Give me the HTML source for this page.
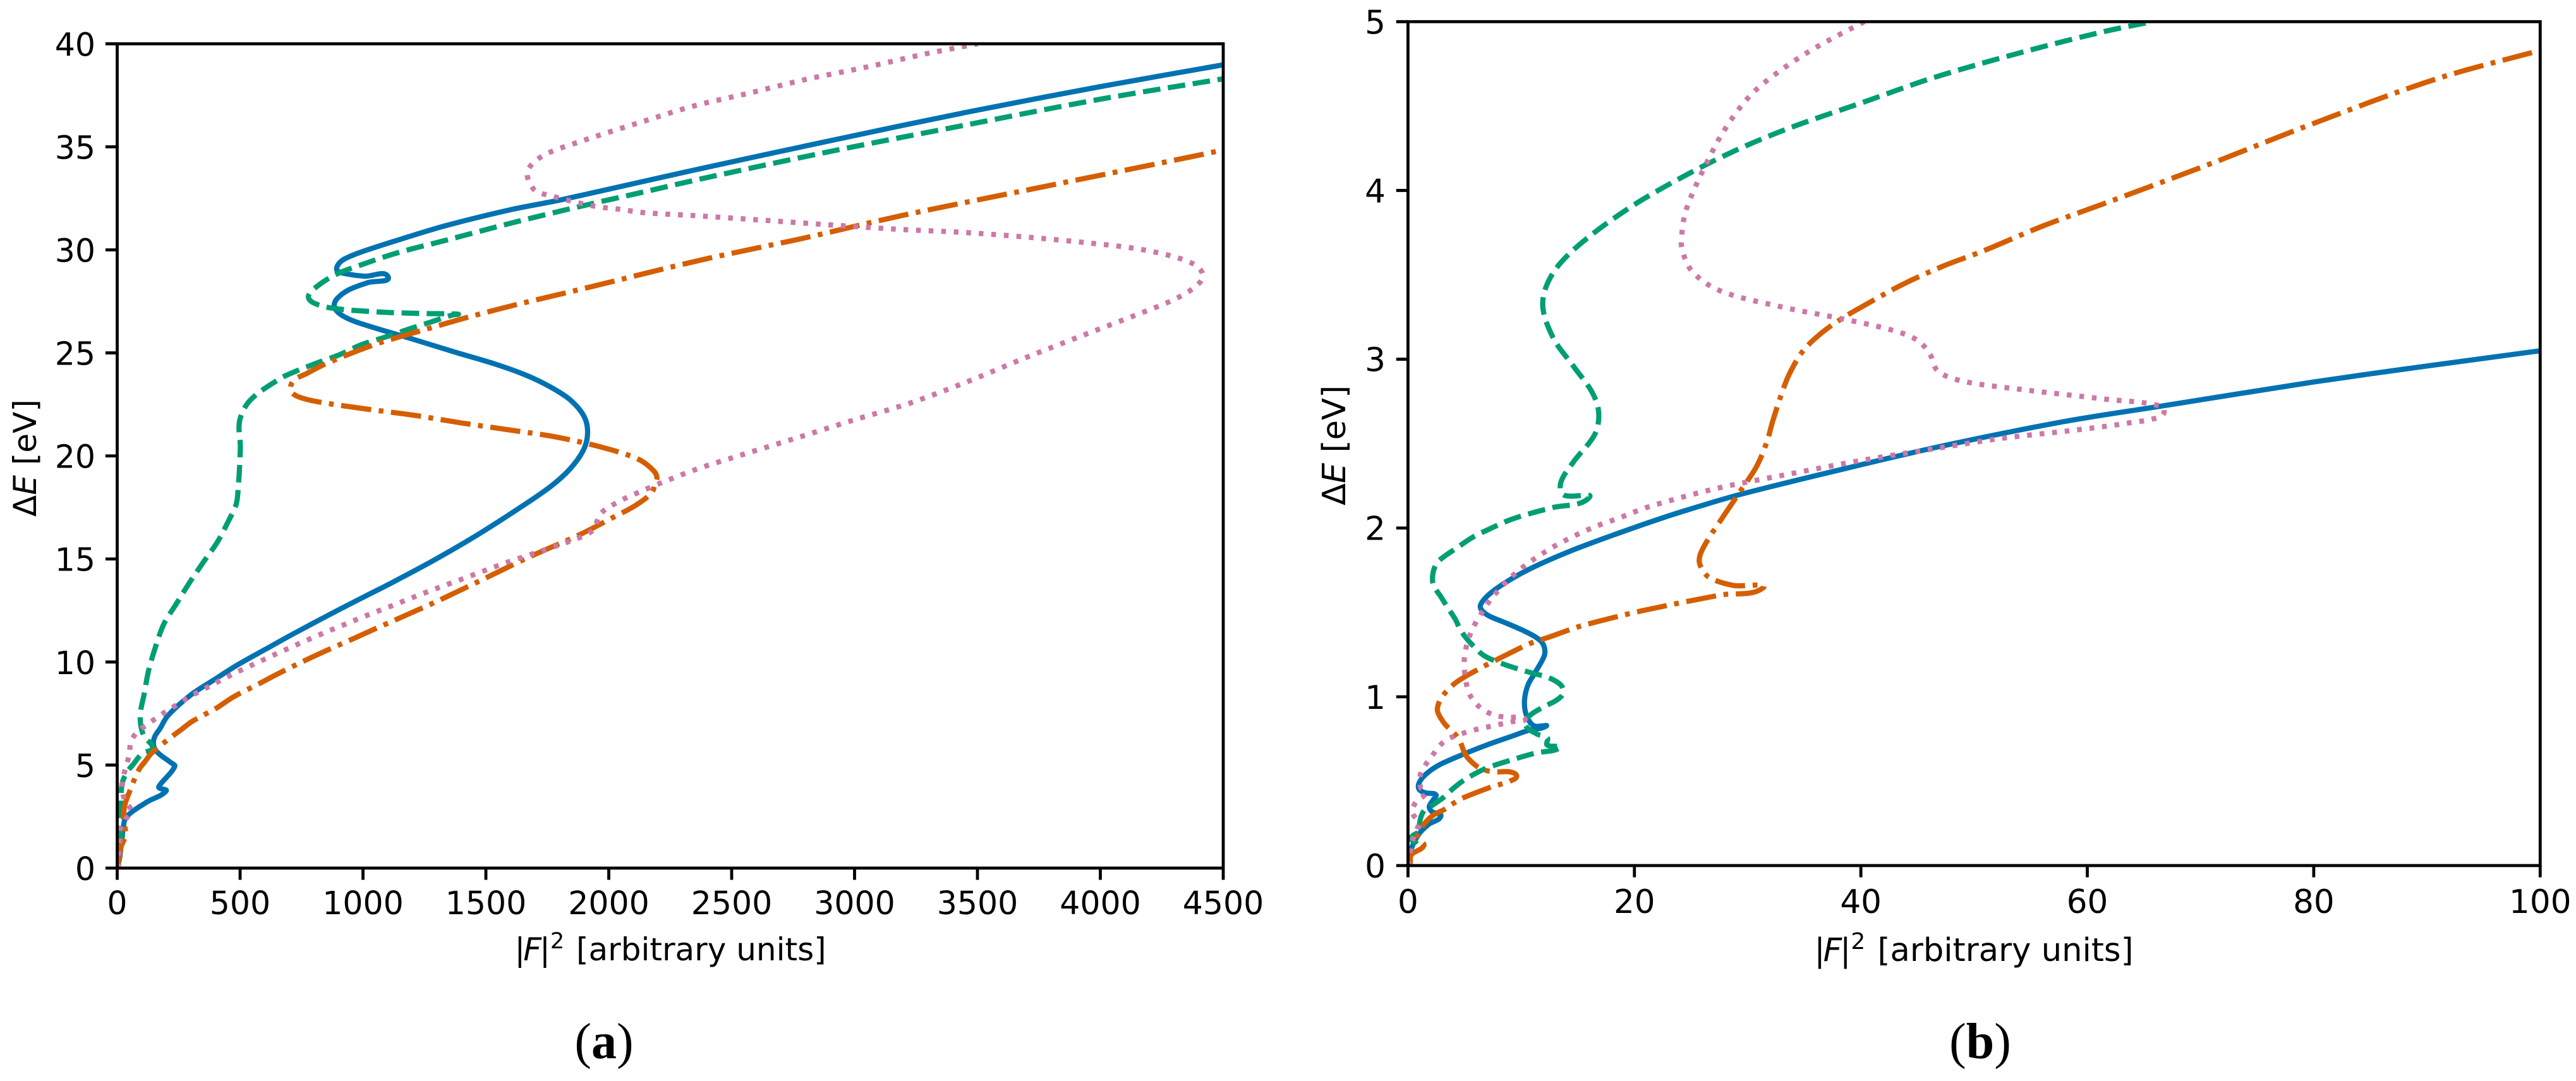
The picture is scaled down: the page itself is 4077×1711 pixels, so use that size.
<!DOCTYPE html>
<html lang="en">
<head>
<meta charset="utf-8">
<title>Two panels of |F|² against ΔE</title>
<style>
html,body{margin:0;padding:0;background:#fff;}
svg{display:block;}
text{font-family:"DejaVu Sans","Liberation Sans",sans-serif;fill:#000;}
.cap{font-family:"Liberation Serif",serif;}
</style>
</head>
<body>
<svg id="fig" xmlns="http://www.w3.org/2000/svg" width="4077" height="1711" viewBox="0 0 4077 1711">
<rect width="4077" height="1711" fill="#fff"/>
<defs>
<clipPath id="clipA"><rect x="185.5" y="69.3" width="1750.5" height="1304.7"/></clipPath>
<clipPath id="clipB"><rect x="2228.4" y="34.3" width="1791.9" height="1335.7"/></clipPath>
</defs>
<g id="panelA"></g>
<g id="panelB"></g>
<text x="1061" y="1520" font-size="50" text-anchor="middle">|<tspan dx="-3" font-style="italic">F</tspan><tspan dx="-3">|</tspan><tspan dy="-19" font-size="35">2</tspan><tspan dy="19" dx="3"> [arbitrary units]</tspan></text>
<text x="3124" y="1521" font-size="51.2" text-anchor="middle">|<tspan dx="-3" font-style="italic">F</tspan><tspan dx="-3">|</tspan><tspan dy="-19" font-size="36">2</tspan><tspan dy="19" dx="3"> [arbitrary units]</tspan></text>
<text transform="translate(57,725) rotate(-90)" font-size="50" text-anchor="middle">Δ<tspan font-style="italic">E</tspan> [eV]</text>
<text transform="translate(2129,705) rotate(-90)" font-size="51.2" text-anchor="middle">Δ<tspan font-style="italic">E</tspan> [eV]</text>
<text class="cap" x="956" y="1675" font-size="80" text-anchor="middle">(<tspan font-weight="bold">a</tspan>)</text>
<text class="cap" x="3134" y="1675" font-size="80" text-anchor="middle">(<tspan font-weight="bold">b</tspan>)</text>
</svg>
<script>
// Tick labels
const aXTicks = [0,500,1000,1500,2000,2500,3000,3500,4000,4500];
const aYTicks = [0,5,10,15,20,25,30,35,40];
const bXTicks = [0,20,40,60,80,100];
const bYTicks = [0,1,2,3,4,5];

// Panel (a) series
const aBlueX = [0,10,15,20,25,37,120,199,170,174,234,217,165,148,152,174,207,300,392,484,599,714,864,1002,1118,1290,1463,1636,1768,1846,1899,1914,1899,1846,1768,1663,1532,1374,1204,1046,955,902,883,896,942,1020,1102,1007,941,896,896,922,994,1138,1335,1597,1794,1991,2351,2902,3453,4004,4500];
const aBlueE = [0,0.5,1,1.5,2,2.48,3.2,3.74,3.9,4.04,4.93,5.13,5.6,5.95,6.36,6.77,7.41,8.41,9.12,9.82,10.59,11.35,12.3,13.15,13.85,14.95,16.15,17.47,18.56,19.42,20.34,21.16,21.93,22.69,23.31,23.92,24.48,25.04,25.66,26.22,26.58,26.93,27.29,27.65,28.06,28.41,28.7,28.72,28.82,28.98,29.23,29.54,29.9,30.46,31.17,31.94,32.4,32.92,33.88,35.3,36.67,37.93,38.98];

const aGreenX = [0,5,12,15,15,20,41,63,103,144,109,95,95,109,127,155,190,242,294,351,409,455,484,492,501,498,541,655,705,810,902,994,1099,1190,1282,1361,1387,1256,1073,876,797,778,810,889,994,1138,1335,1597,1859,2161,2351,2902,3453,4004,4500];
const aGreenE = [0,0.5,1,2,3,4.1,4.67,5,5.58,5.82,6.4,7,7.6,8.4,9.55,10.7,11.85,12.85,13.85,14.85,15.85,16.9,17.65,18.38,20.4,21.7,22.7,23.7,24,24.5,24.9,25.4,25.8,26.17,26.52,26.83,26.88,26.91,26.98,27.17,27.44,27.75,28.2,28.8,29.28,29.85,30.46,31.28,32.04,32.86,33.38,34.78,36.06,37.32,38.3];

const aOrangeX = [0,8,15,34,26,30,45,88,114,140,230,265,305,403,472,576,657,760,841,945,1014,1129,1302,1486,1670,1885,2015,2109,2174,2187,2196,2181,2122,1991,1794,1597,1401,1204,1007,811,732,705,719,771,850,1046,1243,1427,1623,1820,2017,2213,2410,2607,2805,3191,3783,4375,4500];
const aOrangeE = [0,0.5,1,1.62,2.37,3,3.55,4.77,5.18,5.58,6.45,6.76,7.12,7.76,8.3,8.94,9.45,10.05,10.5,11.05,11.42,12.03,12.95,14,15.06,16.2,17,17.6,18.2,18.6,18.96,19.3,19.83,20.36,20.9,21.26,21.6,21.98,22.29,22.64,22.9,23.2,23.67,24,24.48,25.4,26.1,26.73,27.34,27.9,28.47,29.05,29.6,30.1,30.6,31.66,33.1,34.53,34.85];

const aPinkX = [0,6,6,10,11,34,58,32,21,25,38,50,56,86,127,167,210,296,384,475,564,657,749,841,933,1028,1120,1213,1308,1402,1498,1592,1688,1850,1934,1967,2043,2135,2227,2365,2516,2750,2991,3232,3467,3701,3935,4169,4307,4389,4417,4389,4293,4141,3949,3728,3453,3177,2902,2626,2351,2148,2050,1951,1853,1755,1702,1672,1672,1737,1885,2147,2351,2558,2805,3053,3301,3500];
const aPinkE = [0,0.17,0.7,1.25,1.85,2.37,2.76,3.24,3.83,4.43,5,5.58,6.16,6.65,7,7.35,7.68,8.32,8.88,9.44,9.94,10.45,10.94,11.41,11.86,12.32,12.74,13.18,13.61,14.02,14.45,14.86,15.24,15.9,16.38,17.2,17.8,18.3,18.76,19.39,19.96,20.82,21.72,22.59,23.64,24.79,25.88,26.95,27.63,28.24,28.73,29.24,29.69,30.07,30.34,30.59,30.84,31,31.21,31.44,31.66,31.8,31.96,32.1,32.35,32.65,32.86,33.42,33.92,34.6,35.26,36.26,37,37.57,38.28,38.88,39.54,40];

// Panel (b) series
const bBlueX = [0,0.3,0.96,1.8,2.9,2.1,1.88,2.24,2.46,1.6,1,0.96,1.5,2.67,4.8,6.94,9.08,10.6,12.2,11.2,10.7,10.36,10.3,10.6,11.2,11.96,12.1,11.86,11.2,9.94,8.44,7.16,6.5,6.4,6.94,8,9.7,11.65,14.4,18,22.3,25.8,29.4,38.3,47.2,57.9,66.8,80,90,100];
const bBlueE = [0,0.1,0.186,0.243,0.293,0.32,0.35,0.39,0.42,0.43,0.45,0.486,0.536,0.593,0.657,0.714,0.764,0.8,0.826,0.826,0.857,0.914,0.986,1.07,1.14,1.23,1.27,1.32,1.357,1.4,1.443,1.479,1.514,1.543,1.593,1.65,1.72,1.786,1.865,1.955,2.056,2.13,2.2,2.347,2.486,2.63,2.725,2.865,2.96,3.05];

const bGreenX = [0,0.28,0.84,0.28,1.2,1.02,1.4,2,3.2,3.7,4.93,6.8,9,11.3,13.46,12.3,12.3,11.4,10.4,10.6,11.86,13.1,13.7,13.5,12.3,11.2,9.3,7.9,6.73,6,5.2,4.6,4.2,3.5,2.9,2.24,2.2,2.56,3.3,4.4,5.66,7.16,9.08,11,12.7,16,13.75,13.5,14.6,16.5,16.85,16.3,14.6,12.8,11.9,12.8,15.16,19.4,23.7,28.7,33.7,40.1,46.5,54.3,61.4,65.7];
const bGreenE = [0,0.082,0.119,0.163,0.213,0.25,0.325,0.35,0.407,0.44,0.505,0.573,0.623,0.667,0.7,0.714,0.757,0.779,0.829,0.879,0.936,0.979,1.02,1.07,1.117,1.136,1.174,1.207,1.243,1.286,1.343,1.4,1.457,1.529,1.593,1.664,1.729,1.793,1.836,1.886,1.943,1.993,2.05,2.09,2.12,2.18,2.196,2.27,2.39,2.555,2.68,2.8,2.96,3.13,3.33,3.51,3.68,3.89,4.06,4.23,4.37,4.52,4.67,4.82,4.94,5];

const bOrangeX = [0,0.19,0.28,1.4,0.84,1.2,2.14,3.17,3.9,4.84,7.17,8.1,9,9.6,9,7.6,6.7,6,5.1,4.56,4,3.3,2.7,2.6,3,4.27,6.4,7.26,10.47,11.3,12.3,14.7,15.5,20.5,27.6,31.35,28.7,26.55,25.8,25.8,26.55,27.6,29.4,30.8,31.7,32.2,33,33.7,34.9,36.5,38.3,40.07,43.6,47.2,50.75,56.1,61.4,70.96,79.7,90.8,100];
const bOrangeE = [0,0.014,0.063,0.119,0.163,0.225,0.294,0.331,0.364,0.4,0.461,0.48,0.5,0.53,0.555,0.555,0.567,0.592,0.654,0.741,0.79,0.835,0.897,0.934,1,1.086,1.17,1.2,1.307,1.329,1.35,1.407,1.424,1.507,1.603,1.645,1.66,1.71,1.78,1.84,1.937,2.044,2.223,2.366,2.51,2.63,2.796,2.915,3.05,3.154,3.24,3.31,3.44,3.55,3.64,3.79,3.92,4.16,4.39,4.66,4.83];

const bPinkX = [0,0.19,0.28,0.6,0.93,0.37,0.74,1.58,1.12,1.08,1.58,2.23,2.94,3.85,4.9,6,7.08,8.2,9.27,10.3,8.8,7.7,6.7,5.88,5.34,5.09,4.96,5.02,5.28,5.66,6.2,6.73,7.4,8.16,8.9,9.76,10.6,11.54,12.46,13.46,14.47,15.45,16.5,17.5,18.6,19.6,21.7,27.3,33.7,40,46.5,52.3,58.9,63.4,66.6,66.6,61.4,54.3,49,46.8,46.1,45.05,42.9,38.3,33,27.6,25.1,24.2,24.2,24.5,25.3,26.5,27.6,29.2,30.8,33.3,36.1,40.3];
const bPinkE = [0,0.07,0.126,0.185,0.256,0.315,0.38,0.43,0.461,0.536,0.6,0.66,0.72,0.76,0.785,0.806,0.822,0.838,0.853,0.87,0.878,0.89,0.92,0.969,1.03,1.107,1.18,1.254,1.329,1.397,1.464,1.52,1.586,1.643,1.697,1.746,1.791,1.833,1.874,1.911,1.946,1.977,2.007,2.033,2.057,2.085,2.135,2.235,2.32,2.4,2.47,2.53,2.58,2.62,2.665,2.72,2.765,2.82,2.87,2.93,3.03,3.11,3.17,3.24,3.31,3.405,3.52,3.655,3.75,3.87,4.01,4.18,4.32,4.48,4.6,4.73,4.85,5];

const SVGNS = 'http://www.w3.org/2000/svg';
const LW = 8.2;
const U = 7.5;

function axisFn(v0, v1, p0, p1){
  return function(v){ return p0 + (v - v0) / (v1 - v0) * (p1 - p0); };
}

function smoothPath(pts){
  let d = 'M' + pts[0][0].toFixed(1) + ' ' + pts[0][1].toFixed(1);
  const tang = pts.map(function(p,i){
    const a = pts[Math.max(i-1,0)], b = pts[Math.min(i+1,pts.length-1)];
    const dx = b[0]-a[0], dy = b[1]-a[1], n = Math.hypot(dx,dy) || 1;
    return [dx/n, dy/n];
  });
  for (let i = 0; i < pts.length-1; i++){
    const p = pts[i], q = pts[i+1];
    const L = Math.hypot(q[0]-p[0], q[1]-p[1]) * 0.33;
    d += 'C' + (p[0]+tang[i][0]*L).toFixed(1) + ' ' + (p[1]+tang[i][1]*L).toFixed(1) + ' ' +
         (q[0]-tang[i+1][0]*L).toFixed(1) + ' ' + (q[1]-tang[i+1][1]*L).toFixed(1) + ' ' +
         q[0].toFixed(1) + ' ' + q[1].toFixed(1);
  }
  return d;
}

function drawPanel(root, tag, clipId, box, xMax, yMax, xTicks, yTicks, series){
  const xS = axisFn(0, xMax, box.l, box.r);
  const yS = axisFn(0, yMax, box.b, box.t);

  const lines = document.createElementNS(SVGNS, 'g');
  lines.setAttribute('clip-path', 'url(#' + clipId + ')');
  
  
  root.appendChild(lines);

  series.forEach(function(s){
    const pts = s.x.map(function(v,i){ return [xS(v), yS(s.e[i])]; });
    const p = document.createElementNS(SVGNS, 'path');
    p.setAttribute('d', smoothPath(pts));
    p.setAttribute('fill', 'none');
    p.setAttribute('stroke', s.color);
    p.setAttribute('stroke-width', LW);
    p.setAttribute('stroke-linejoin', 'round');
    if (s.dash) p.setAttribute('stroke-dasharray', s.dash);
    
    
    lines.appendChild(p);
  });

  const frame = document.createElementNS(SVGNS, 'rect');
  frame.setAttribute('x', box.l);
  frame.setAttribute('y', box.t);
  frame.setAttribute('width', box.r - box.l);
  frame.setAttribute('height', box.b - box.t);
  frame.setAttribute('fill', 'none');
  frame.setAttribute('stroke', '#000');
  frame.setAttribute('stroke-width', 4.8);
  
  
  root.appendChild(frame);

  xTicks.forEach(function(v){
    const t = document.createElementNS(SVGNS, 'line');
    t.setAttribute('x1', xS(v));
    t.setAttribute('x2', xS(v));
    t.setAttribute('y1', box.b);
    t.setAttribute('y2', box.b + 18.6);
    t.setAttribute('stroke', '#000');
    t.setAttribute('stroke-width', 4.8);
    
    
    root.appendChild(t);
    const l = document.createElementNS(SVGNS, 'text');
    l.setAttribute('x', xS(v));
    l.setAttribute('y', box.b + box.xLabelGap);
    l.setAttribute('font-size', box.fs);
    l.setAttribute('text-anchor', 'middle');
    
    
    l.textContent = String(v);
    root.appendChild(l);
  });

  yTicks.forEach(function(v){
    const t = document.createElementNS(SVGNS, 'line');
    t.setAttribute('x1', box.l - 18.6);
    t.setAttribute('x2', box.l);
    t.setAttribute('y1', yS(v));
    t.setAttribute('y2', yS(v));
    t.setAttribute('stroke', '#000');
    t.setAttribute('stroke-width', 4.8);
    
    
    root.appendChild(t);
    const l = document.createElementNS(SVGNS, 'text');
    l.setAttribute('x', box.l - box.yLabelGap);
    l.setAttribute('y', yS(v) + 19);
    l.setAttribute('font-size', box.fs);
    l.setAttribute('text-anchor', 'end');
    
    
    l.textContent = String(v);
    root.appendChild(l);
  });
}

const COL = {blue:'#0072B2', green:'#009E73', orange:'#D55E00', pink:'#CC79A7'};
const DASH = {green:(3.7*U)+' '+(1.6*U), orange:(6.4*U)+' '+(1.6*U)+' '+U+' '+(1.6*U), pink:U+' '+(1.65*U)};

drawPanel(document.getElementById('panelA'), 'a', 'clipA',
  {l:185.5, r:1936, t:69.3, b:1374, fs:50.5, xLabelGap:73, yLabelGap:34.5}, 4500, 40, aXTicks, aYTicks, [
  {name:'series-blue-solid', x:aBlueX, e:aBlueE, color:COL.blue},
  {name:'series-green-dashed', x:aGreenX, e:aGreenE, color:COL.green, dash:DASH.green},
  {name:'series-orange-dashdot', x:aOrangeX, e:aOrangeE, color:COL.orange, dash:DASH.orange},
  {name:'series-pink-dotted', x:aPinkX, e:aPinkE, color:COL.pink, dash:DASH.pink}
]);

drawPanel(document.getElementById('panelB'), 'b', 'clipB',
  {l:2228.4, r:4020.3, t:34.3, b:1370, fs:51.6, xLabelGap:75, yLabelGap:35.5}, 100, 5, bXTicks, bYTicks, [
  {name:'series-blue-solid', x:bBlueX, e:bBlueE, color:COL.blue},
  {name:'series-green-dashed', x:bGreenX, e:bGreenE, color:COL.green, dash:DASH.green},
  {name:'series-orange-dashdot', x:bOrangeX, e:bOrangeE, color:COL.orange, dash:DASH.orange},
  {name:'series-pink-dotted', x:bPinkX, e:bPinkE, color:COL.pink, dash:DASH.pink}
]);
</script>
</body>
</html>
